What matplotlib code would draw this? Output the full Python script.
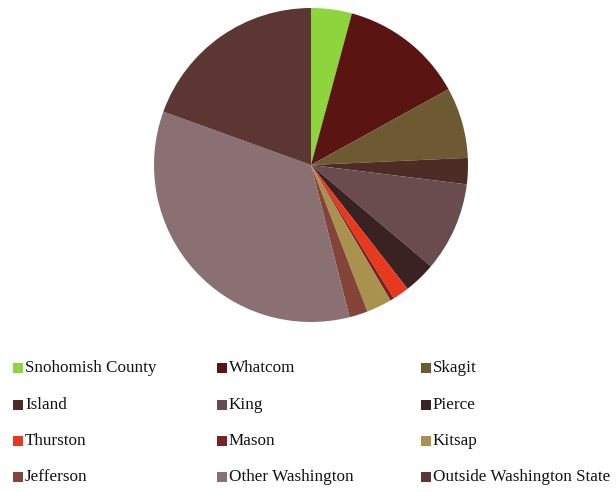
import matplotlib.pyplot as plt
from matplotlib.patches import Rectangle

regions = ["Snohomish County", "Whatcom", "Skagit", "Island", "King", "Pierce",
           "Thurston", "Mason", "Kitsap", "Jefferson", "Other Washington",
           "Outside Washington State"]
shares = [4.2, 12.8, 7.3, 2.7, 9.2, 3.3, 1.7, 0.4, 2.6, 1.9, 34.5, 19.5]
colors = ["#8ed43c", "#5a1512", "#6e5a32", "#4e2c26", "#6a4c4e", "#3a2222",
          "#e8381e", "#7a2220", "#a8924e", "#84443a", "#8a7072", "#5c3632"]

W, H = 616, 492
fig = plt.figure(figsize=(W / 100, H / 100), dpi=100)

# pie centred near (311, 165) px, radius ~157 px
cx, cy, r = 311, 165, 157
ax = fig.add_axes([(cx - r) / W, (H - cy - r) / H, 2 * r / W, 2 * r / H])
ax.pie(shares, colors=colors, startangle=90, counterclock=False, radius=1,
       wedgeprops=dict(linewidth=0))
ax.set_xlim(-1, 1)
ax.set_ylim(-1, 1)
ax.set_aspect("equal")
ax.axis("off")

# legend: 3 columns, filled row by row
col_x = [13, 217, 421]
row_y = [368, 405, 441, 477]
sq = 10
for i, (name, c) in enumerate(zip(regions, colors)):
    x = col_x[i % 3]
    y = row_y[i // 3]
    fig.add_artist(Rectangle((x / W, (H - y - sq / 2) / H), sq / W, sq / H,
                             transform=fig.transFigure, color=c, lw=0))
    fig.text((x + sq + 2) / W, (H - y) / H, name, fontsize=12.3,
             family="Liberation Serif", va="center", ha="left", color="#111111")

fig.savefig("out.png", dpi=100)
